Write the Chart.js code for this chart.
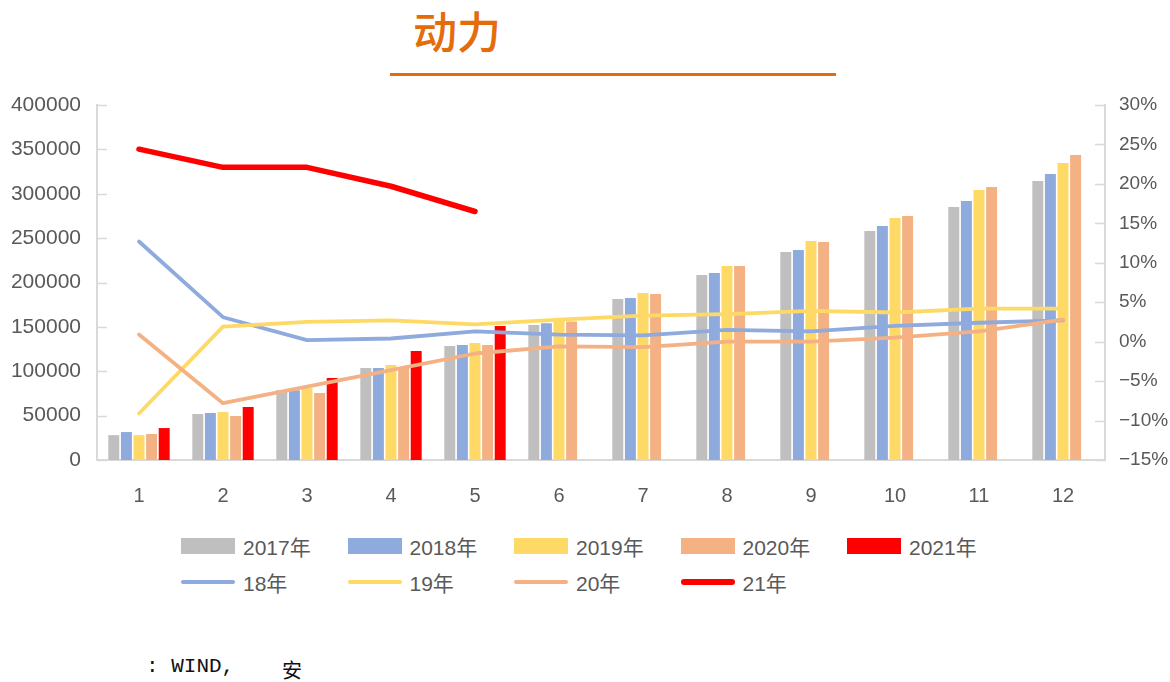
<!DOCTYPE html>
<html>
<head>
<meta charset="utf-8">
<script src="https://cdn.jsdelivr.net/npm/chart.js@4/dist/chart.umd.min.js"></script>
<style>
  html, body { margin: 0; padding: 0; background: #fff; }
  body { width: 1170px; height: 682px; position: relative; overflow: hidden; font-family: "Liberation Sans", "Noto Sans CJK SC", sans-serif; }
  #title { position: absolute; left: 413px; top: 8px; font: 500 44px/44px "Noto Sans CJK SC", sans-serif; color: #E46C0A; }
  #rule { position: absolute; left: 390px; top: 73px; width: 446px; height: 3px; background: #E46C0A; }
  #chart-wrap { position: absolute; left: 0; top: 0; width: 1170px; height: 510px; }
  .legend-item { position: absolute; display: flex; align-items: center; font-size: 21px; color: #595959; height: 24px; }
  .legend-item .swatch { width: 54px; height: 16px; margin-right: 8px; }
  .legend-item .lineswatch { width: 54px; border-radius: 3px; margin-right: 8px; }
  #source { position: absolute; left: 146px; top: 655px; font: 21px "Liberation Mono", monospace; color: #111; }
  #source2 { position: absolute; left: 282px; top: 655px; font: 20px "Noto Sans CJK SC", sans-serif; color: #111; }
</style>
</head>
<body>
<div id="title">动力</div>
<div id="rule"></div>
<div id="chart-wrap"><canvas id="chart" width="1170" height="510"></canvas></div>
<div id="legend"></div>
<div id="source">: WIND,</div>
<div id="source2">安</div>

<script>
// Months on the x axis
const months = ['1', '2', '3', '4', '5', '6', '7', '8', '9', '10', '11', '12'];

// Monthly volumes (left axis)
const vol2017 = [28000, 51800, 78900, 103700, 128500, 152000, 181400, 208500, 234400, 258000, 285000, 314400];
const vol2018 = [31500, 53000, 78500, 103700, 129600, 154000, 182500, 210700, 236600, 263700, 291800, 322300];
const vol2019 = [28000, 54000, 81000, 107000, 131800, 158000, 188200, 218600, 246800, 272700, 304200, 334700];
const vol2020 = [29300, 49600, 75500, 104000, 129600, 156000, 187000, 218600, 245600, 275000, 307600, 343700];
const vol2021 = [36000, 59700, 92400, 122800, 151000, null, null, null, null, null, null, null];

// Growth rates in % (right axis)
const growth18 = [12.7, 3.1, 0.2, 0.4, 1.3, 0.9, 0.8, 1.5, 1.3, 2.0, 2.4, 2.7];
const growth19 = [-9.1, 1.9, 2.5, 2.7, 2.2, 2.8, 3.3, 3.5, 3.9, 3.7, 4.2, 4.2];
const growth20 = [0.9, -7.8, -5.7, -3.6, -1.5, -0.6, -0.7, 0.0, 0.0, 0.5, 1.3, 2.8];
const growth21 = [24.4, 22.1, 22.1, 19.7, 16.5, null, null, null, null, null, null, null];

// Axis ranges
const leftMax = 400000;
const leftStep = 50000;
const rightMin = -15;
const rightMax = 30;
const rightStep = 5;

const tickColor = '#595959';
const axisColor = '#D9D9D9';

// Build a bar dataset
function barSet(label, data, color) {
    return {
        type: 'bar',
        label: label,
        data: data,
        backgroundColor: color,
        yAxisID: 'y',
        order: 2,
        categoryPercentage: 0.75,
        barPercentage: 0.87
    };
}

// Build a growth line dataset
function lineSet(label, data, color, width) {
    return {
        type: 'line',
        label: label,
        data: data,
        borderColor: color,
        backgroundColor: color,
        borderWidth: width,
        borderCapStyle: 'round',
        borderJoinStyle: 'round',
        pointRadius: 0,
        tension: 0,
        yAxisID: 'y1',
        order: 1
    };
}

// Small inside tick marks on both value axes
const innerTicks = {
    id: 'innerTicks',
    afterDraw(chart) {
        const ctx = chart.ctx;
        const area = chart.chartArea;
        ctx.save();
        ctx.strokeStyle = axisColor;
        ctx.lineWidth = 1.5;
        chart.scales.y.ticks.forEach(t => {
            const py = Math.round(chart.scales.y.getPixelForValue(t.value)) + 0.5;
            ctx.beginPath();
            ctx.moveTo(area.left, py);
            ctx.lineTo(area.left + 10, py);
            ctx.stroke();
        });
        chart.scales.y1.ticks.forEach(t => {
            const py = Math.round(chart.scales.y1.getPixelForValue(t.value)) + 0.5;
            ctx.beginPath();
            ctx.moveTo(area.right - 10, py);
            ctx.lineTo(area.right, py);
            ctx.stroke();
        });
        ctx.restore();
    }
};

const ctx = document.getElementById('chart').getContext('2d');
const chart = new Chart(ctx, {
    data: {
        labels: months,
        datasets: [
            lineSet('21年', growth21, '#FF0000', 5.5),
            lineSet('20年', growth20, '#F4B183', 3.8),
            lineSet('19年', growth19, '#FFD966', 3.8),
            lineSet('18年', growth18, '#8FAADC', 3.8),
            barSet('2017年', vol2017, '#BFBFBF'),
            barSet('2018年', vol2018, '#8FAADC'),
            barSet('2019年', vol2019, '#FFD966'),
            barSet('2020年', vol2020, '#F4B183'),
            barSet('2021年', vol2021, '#FF0000')
        ]
    },
    options: {
        responsive: false,
        animation: false,
        devicePixelRatio: 1,
        layout: { padding: { top: 105, left: 0, right: 0, bottom: 0 } },
        plugins: {
            legend: { display: false },
            tooltip: { enabled: false }
        },
        scales: {
            x: {
                grid: { display: false },
                border: { display: true, color: axisColor, width: 2 },
                ticks: { color: tickColor, font: { size: 20, family: 'Liberation Sans' }, padding: 16, maxRotation: 0 },
                afterFit(scale) { scale.height = 50; }
            },
            y: {
                position: 'left',
                min: 0,
                max: leftMax,
                grid: { display: false, drawTicks: false },
                border: { display: true, color: axisColor, width: 2 },
                ticks: {
                    stepSize: leftStep,
                    color: tickColor,
                    font: { size: 21, family: 'Liberation Sans' },
                    padding: 16,
                    callback: v => String(v)
                },
                afterFit(scale) { scale.width = 97; }
            },
            y1: {
                position: 'right',
                min: rightMin,
                max: rightMax,
                grid: { display: false, drawTicks: false },
                border: { display: true, color: axisColor, width: 2 },
                ticks: {
                    stepSize: rightStep,
                    color: tickColor,
                    font: { size: 19, family: 'Liberation Sans' },
                    padding: 14,
                    callback: v => (v < 0 ? '\u2212' + Math.abs(v) : v) + '%'
                },
                afterFit(scale) { scale.width = 65; }
            }
        }
    },
    plugins: [innerTicks]
});

// Legend built from the chart's datasets: bars on the first row, lines on the second
function buildLegend() {
    const holder = document.getElementById('legend');
    const bars = chart.data.datasets.filter(d => d.type === 'bar');
    const lines = chart.data.datasets.filter(d => d.type === 'line').reverse();
    const rows = [[bars, 534], [lines, 570]];
    rows.forEach(([items, top]) => {
        items.forEach((ds, i) => {
            const item = document.createElement('div');
            item.className = 'legend-item';
            item.style.left = (181 + i * 166.5) + 'px';
            item.style.top = top + 'px';
            const sw = document.createElement('span');
            if (ds.type === 'bar') {
                sw.className = 'swatch';
                sw.style.background = ds.backgroundColor;
            } else {
                sw.className = 'lineswatch';
                sw.style.height = ds.borderWidth + 'px';
                sw.style.background = ds.borderColor;
            }
            item.appendChild(sw);
            item.appendChild(document.createTextNode(ds.label));
            holder.appendChild(item);
        });
    });
}
buildLegend();
</script>
</body>
</html>
